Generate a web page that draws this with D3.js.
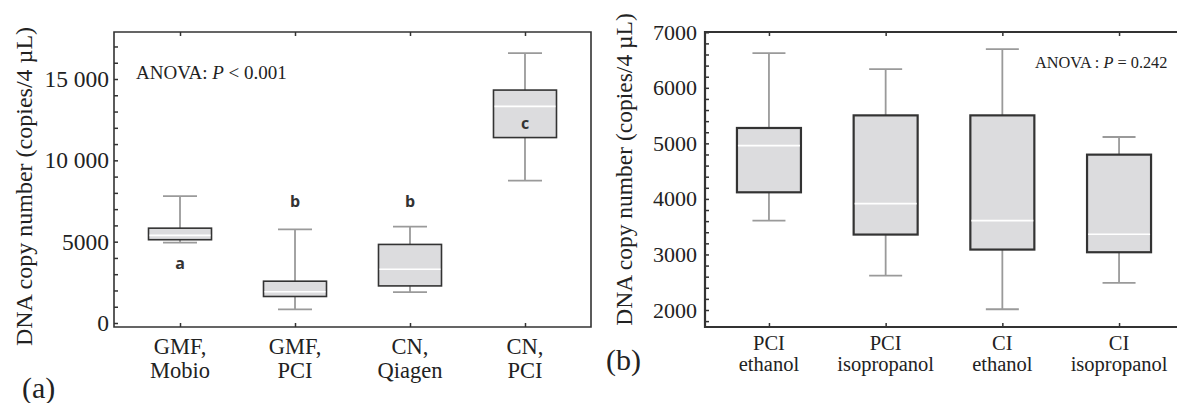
<!DOCTYPE html>
<html>
<head>
<meta charset="utf-8">
<script src="https://cdn.jsdelivr.net/npm/d3@7"></script>
<style>
body{margin:0;background:#fff;}
svg{display:block;}
text{font-family:"Liberation Serif","Times New Roman",serif;fill:#222;}
.let{font-family:"Open Sans","Noto Sans",sans-serif;font-weight:bold;fill:#333;}
</style>
</head>
<body>
<svg id="chart" width="1177" height="403"></svg>
<script>
// panel (a)
var catsA = [["GMF,","Mobio"],["GMF,","PCI"],["CN,","Qiagen"],["CN,","PCI"]];
var whiskLoA = [4940, 840, 1900, 8750];
var q1A = [5120, 1630, 2280, 11400];
var medA = [5385, 1920, 3300, 13320];
var q3A = [5830, 2570, 4830, 14320];
var whiskHiA = [7800, 5750, 5920, 16590];
var lettersA = ["a","b","b","c"];
var letterYA = [3300, 7160, 7160, 11930];
var yTicksA = [0,5000,10000,15000];
var yLabelsA = ["0","5000","10 000","15 000"];

// panel (b)
var catsB = [["PCI","ethanol"],["PCI","isopropanol"],["CI","ethanol"],["CI","isopropanol"]];
var whiskLoB = [3610, 2620, 2014, 2489];
var q1B = [4119, 3358, 3088, 3040];
var medB = [4959, 3915, 3610, 3363];
var q3B = [5277, 5504, 5504, 4797];
var whiskHiB = [6626, 6338, 6698, 5115];
var yTicksB = [2000,3000,4000,5000,6000,7000];

var svg = d3.select("#chart");

function drawPanel(o){
	var g = svg.append("g");
	var keys = o.cats.map(function(d){return d.join(" ");});
	var x = d3.scalePoint().domain(keys).range([o.left,o.right]).padding(o.pad);
	var y = d3.scaleLinear().domain(o.ydom).range([o.bottom,o.top]);

	// y ticks (inward) + labels
	var yAxis = d3.axisLeft(y)
		.tickValues(o.minor)
		.tickSizeInner(-4)
		.tickSizeOuter(0)
		.tickPadding(o.tickPad)
		.tickFormat(function(d){var i=o.major.indexOf(d);return i<0?"":o.majorLab[i];});
	var ya = g.append("g").attr("transform","translate("+o.left+",0)").call(yAxis);
	ya.select(".domain").remove();
	ya.selectAll("line").attr("stroke","#333").attr("stroke-width",1.5);
	ya.selectAll("text").style("font-size",o.tickSize+"px").style("font-family","Liberation Serif").attr("fill","#222");

	// x ticks top and bottom
	var xb = g.append("g").attr("transform","translate(0,"+o.bottom+")")
		.call(d3.axisBottom(x).tickSizeInner(-4).tickSizeOuter(0).tickFormat(""));
	xb.select(".domain").remove();
	xb.selectAll("line").attr("stroke","#333").attr("stroke-width",1.5);
	var xt = g.append("g").attr("transform","translate(0,"+o.top+")")
		.call(d3.axisTop(x).tickSizeInner(-4).tickSizeOuter(0).tickFormat(""));
	xt.select(".domain").remove();
	xt.selectAll("line").attr("stroke","#333").attr("stroke-width",1.5);

	// frame
	g.append("path")
		.attr("d","M"+o.right+","+o.top+"H"+o.left+"V"+o.bottom+"H"+o.right+(o.closed?"Z":""))
		.attr("fill","none").attr("stroke","#333").attr("stroke-width",o.frameW);

	// boxes
	var bw = o.boxW, cw = o.capW;
	var box = g.selectAll(".bx").data(keys).enter().append("g").attr("class","bx");
	box.append("line")
		.attr("x1",function(d){return x(d);}).attr("x2",function(d){return x(d);})
		.attr("y1",function(d,i){return y(o.hi[i]);}).attr("y2",function(d,i){return y(o.lo[i]);})
		.attr("stroke","#9a9a9a").attr("stroke-width",1.8);
	box.append("line")
		.attr("x1",function(d){return x(d)-cw/2;}).attr("x2",function(d){return x(d)+cw/2;})
		.attr("y1",function(d,i){return y(o.hi[i]);}).attr("y2",function(d,i){return y(o.hi[i]);})
		.attr("stroke","#9a9a9a").attr("stroke-width",1.8);
	box.append("line")
		.attr("x1",function(d){return x(d)-cw/2;}).attr("x2",function(d){return x(d)+cw/2;})
		.attr("y1",function(d,i){return y(o.lo[i]);}).attr("y2",function(d,i){return y(o.lo[i]);})
		.attr("stroke","#9a9a9a").attr("stroke-width",1.8);
	box.append("rect")
		.attr("x",function(d){return x(d)-bw/2;})
		.attr("width",bw)
		.attr("y",function(d,i){return y(o.q3[i]);})
		.attr("height",function(d,i){return y(o.q1[i])-y(o.q3[i]);})
		.attr("fill","#dcdcde").attr("stroke","#333").attr("stroke-width",o.boxSW);
	box.append("line")
		.attr("x1",function(d){return x(d)-bw/2+1;}).attr("x2",function(d){return x(d)+bw/2-1;})
		.attr("y1",function(d,i){return y(o.med[i]);}).attr("y2",function(d,i){return y(o.med[i]);})
		.attr("stroke","#fff").attr("stroke-width",1.6);

	// category labels, two lines each
	g.selectAll(".cl1").data(o.cats).enter().append("text")
		.attr("class","cl1")
		.attr("text-anchor","middle")
		.style("font-size",o.labSize+"px")
		.attr("x",function(d,i){return x(keys[i]);})
		.attr("y",o.lab1)
		.text(function(d){return d[0];});
	g.selectAll(".cl2").data(o.cats).enter().append("text")
		.attr("class","cl2")
		.attr("text-anchor","middle")
		.style("font-size",o.labSize+"px")
		.attr("x",function(d,i){return x(keys[i]);})
		.attr("y",o.lab2)
		.text(function(d){return d[1];});

	// y title
	g.append("text")
		.attr("transform","translate("+o.titleX+","+((o.top+o.bottom)/2+o.titleDy)+") rotate(-90)")
		.attr("text-anchor","middle")
		.style("font-size",o.titleSize+"px")
		.text("DNA copy number (copies/4 \u00b5L)");

	return {g:g,x:x,y:y,keys:keys};
}

var pa = drawPanel({
	cats:catsA, lo:whiskLoA, q1:q1A, med:medA, q3:q3A, hi:whiskHiA,
	left:114, right:591, top:32, bottom:327, pad:0.574,
	ydom:[-246,17890], minor:d3.range(0,18000,1000), major:yTicksA, majorLab:yLabelsA,
	tickSize:23.5, tickPad:5,
	boxW:63, capW:34, boxSW:1.6, frameW:1.6, closed:true,
	labSize:22.5, lab1:354, lab2:378, titleX:32, titleDy:7, titleSize:24
});

pa.g.selectAll(".let").data(lettersA).enter().append("text")
	.attr("class","let")
	.attr("text-anchor","middle")
	.attr("x",function(d,i){return pa.x(pa.keys[i]);})
	.attr("y",function(d,i){return pa.y(letterYA[i]);})
	.style("font-size","16px")
	.text(function(d){return d;});

var ta = pa.g.append("text").attr("x",136).attr("y",78.5).style("font-size","19px");
ta.append("tspan").text("ANOVA: ");
ta.append("tspan").style("font-style","italic").text("P");
ta.append("tspan").text(" < 0.001");

var pb = drawPanel({
	cats:catsB, lo:whiskLoB, q1:q1B, med:medB, q3:q3B, hi:whiskHiB,
	left:705, right:1183, top:32, bottom:327, pad:0.548,
	ydom:[1694,7005], minor:d3.range(1800,7001,200), major:yTicksB, majorLab:yTicksB.map(String),
	tickSize:22, tickPad:8,
	boxW:64, capW:33, boxSW:2.2, frameW:2.2, closed:false,
	labSize:20.5, lab1:350, lab2:371, titleX:632, titleDy:-10, titleSize:23.5
});

var tb = pb.g.append("text").attr("x",1035).attr("y",68).style("font-size","16.3px");
tb.append("tspan").text("ANOVA : ");
tb.append("tspan").style("font-style","italic").text("P");
tb.append("tspan").text(" = 0.242");

svg.append("text").attr("x",22).attr("y",398).style("font-size","30px").text("(a)");
svg.append("text").attr("x",606).attr("y",370).style("font-size","30px").text("(b)");
</script>
</body>
</html>
